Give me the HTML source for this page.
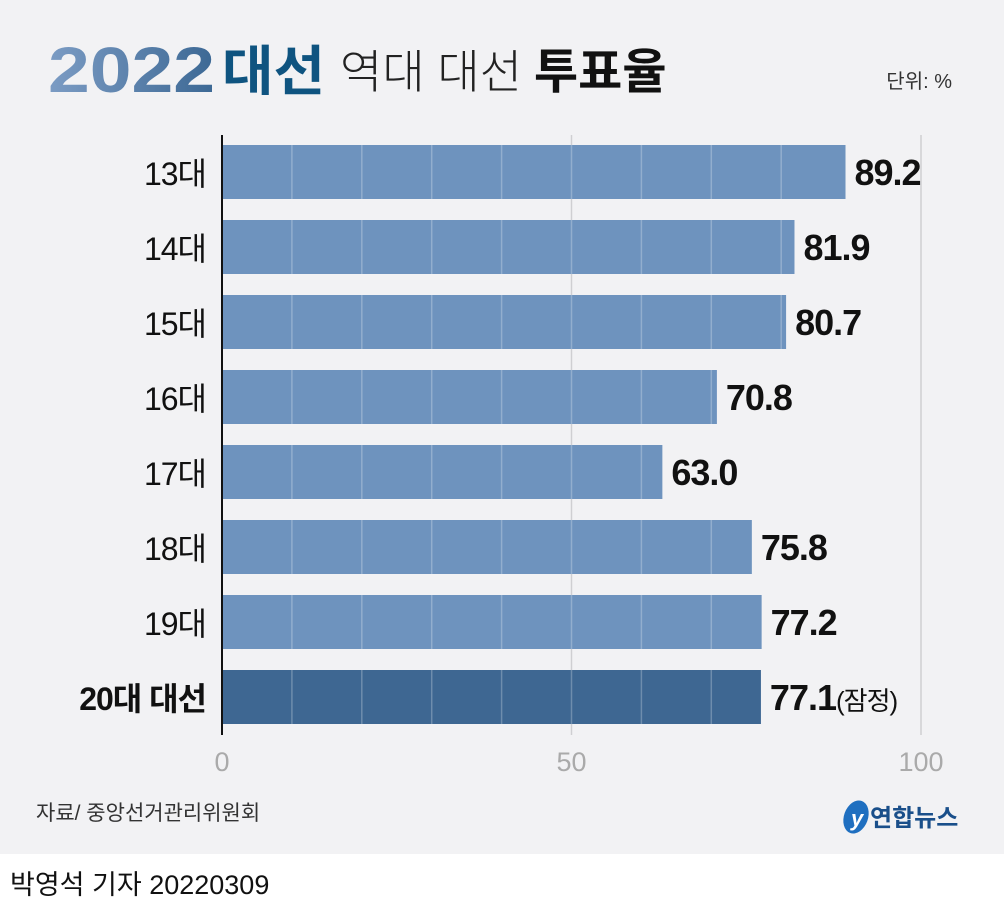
<!DOCTYPE html>
<html><head><meta charset="utf-8"><style>
body{margin:0;width:1004px;height:908px;overflow:hidden;background:#f2f2f4;font-family:"Liberation Sans","Noto Sans CJK KR",sans-serif;}
svg{display:block}
</style></head><body>
<svg width="1004" height="908">
<defs><linearGradient id="yg" x1="0" x2="1"><stop offset="0" stop-color="#7c9cc4"/><stop offset="1" stop-color="#3c6894"/></linearGradient></defs>
<rect x="0" y="0" width="1004" height="854" fill="#f2f2f4"/>
<rect x="0" y="854" width="1004" height="54" fill="#ffffff"/>
<g>
<text x="48" y="92" font-size="64" font-weight="bold" fill="url(#yg)" textLength="167" lengthAdjust="spacingAndGlyphs">2022</text>
<text x="222" y="90" font-size="54" font-weight="bold" fill="#0f5480" textLength="103" lengthAdjust="spacingAndGlyphs">대선</text>
<text x="340" y="88" font-size="46" fill="#222" font-weight="300">역대 대선</text>
<text x="534" y="88" font-size="48" font-weight="bold" fill="#111">투표율</text>
</g>
<text x="952" y="88" font-size="20" text-anchor="end" fill="#333">단위: %</text>
<g id="plot"></g>
<text x="36" y="820" font-size="21" fill="#333">자료/ 중앙선거관리위원회</text>
<g>
<ellipse cx="856" cy="817" rx="12" ry="17" fill="#1f6fc0" transform="rotate(20 856 817)"/>
<text x="851" y="826" font-size="22" font-style="italic" font-weight="bold" fill="#fff">y</text>
<text x="870" y="826" font-size="24" font-weight="bold" fill="#1a4f8a">연합뉴스</text>
</g>
<text x="10" y="894" font-size="27" fill="#111">박영석 기자 20220309</text>
</svg>
<script>
const categories=["13대","14대","15대","16대","17대","18대","19대","20대 대선"];
const values=[89.2,81.9,80.7,70.8,63.0,75.8,77.2,77.1];
const valueLabels=["89.2","81.9","80.7","70.8","63.0","75.8","77.2","77.1"];
const ticks=[0,50,100];
const NS="http://www.w3.org/2000/svg";
const g=document.getElementById('plot');
const x0=222,x1=921,y0=145,pitch=75,bh=54;
const X=v=>x0+(x1-x0)*v/100;
const Y=i=>y0+i*pitch;
function el(t,a){const e=document.createElementNS(NS,t);for(const k in a)e.setAttribute(k,a[k]);g.appendChild(e);return e;}
ticks.forEach(t=>{if(t>0){const l=el('line',{x1:X(t),x2:X(t),y1:135,y2:735,stroke:'#cfcfd2','stroke-width':1.5});

}
const tx=el('text',{x:X(t),y:771,'font-size':27,'text-anchor':'middle',fill:'#aaa'});tx.textContent=t;

});
categories.forEach((c,i)=>{const last=i===categories.length-1;
const r=el('rect',{x:x0,y:Y(i),width:X(values[i])-x0,height:bh,fill:last?'#3e6792':'#6e93be'});


for(let v=10;v<values[i];v+=10){if(v===50)continue;const l=el('line',{x1:X(v),x2:X(v),y1:Y(i),y2:Y(i)+bh,stroke:'rgba(255,255,255,0.25)','stroke-width':1.5});

}
const ml=el('line',{x1:X(50),x2:X(50),y1:Y(i),y2:Y(i)+bh,stroke:'rgba(255,255,255,0.25)','stroke-width':1.5});


const lb=el('text',{x:206,y:Y(i)+40,'font-size':32,'text-anchor':'end',fill:'#111','font-weight':last?'bold':'normal','letter-spacing':-1});lb.textContent=c;


const vl=el('text',{x:X(values[i])+9,y:Y(i)+40,'font-size':36,'font-weight':'bold',fill:'#111','letter-spacing':-1});vl.textContent=valueLabels[i];
if(last){const s=document.createElementNS(NS,'tspan');s.setAttribute('font-weight','normal');s.setAttribute('font-size','26');s.textContent='(잠정)';vl.appendChild(s);}

});
const ax=el('line',{x1:x0,x2:x0,y1:135,y2:735,stroke:'#111','stroke-width':2});


</script>
</body></html>
